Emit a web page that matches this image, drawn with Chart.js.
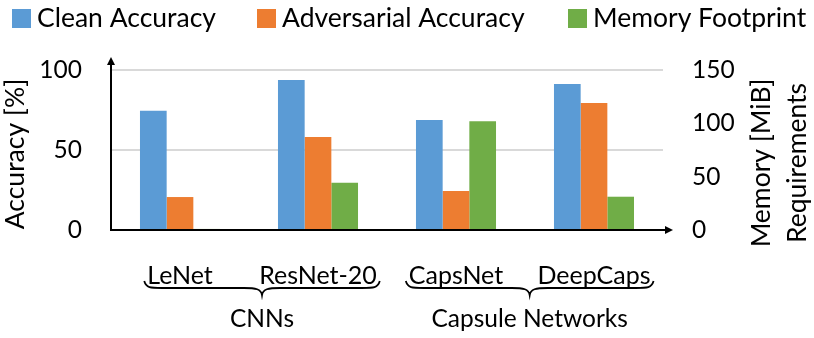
<!DOCTYPE html>
<html>
<head>
<meta charset="utf-8">
<script src="https://cdn.jsdelivr.net/npm/chart.js@4"></script>
<style>
  html, body { margin: 0; padding: 0; background: #fff; }
  #wrap { width: 814px; height: 338px; position: relative; }
</style>
</head>
<body>
<div id="wrap"><canvas id="chart"></canvas></div>
<script>
const categories = ['LeNet', 'ResNet-20', 'CapsNet', 'DeepCaps'];
const cleanAccuracy = [74.6, 93.8, 68.8, 91.3];
const adversarialAccuracy = [20.6, 58.1, 24.4, 79.4];
const memoryFootprint = [1, 44.3, 102, 31.2];
const accuracyTicks = [0, 50, 100];
const memoryTicks = [0, 50, 100, 150];
const groups = [
  { label: 'CNNs', from: 0, to: 1 },
  { label: 'Capsule Networks', from: 2, to: 3 }
];
const seriesNames = ['Clean Accuracy', 'Adversarial Accuracy', 'Memory Footprint'];
const colors = ['#5B9BD5', '#ED7D31', '#70AD47'];

const FONT = 'Lato, "Open Sans", sans-serif';

// legend, axis titles, arrows and braces
const extras = {
  id: 'extras',
  afterDraw(chart) {
    const ctx = chart.ctx;
    const area = chart.chartArea;
    const xs = chart.scales.x;
    ctx.save();
    ctx.fillStyle = '#000';
    ctx.strokeStyle = '#000';

    // legend
    const boxX = [12, 257, 568];
    ctx.font = '26.5px ' + FONT;
    ctx.textBaseline = 'middle';
    ctx.textAlign = 'left';
    seriesNames.forEach((n, i) => {
      ctx.fillStyle = colors[i];
      ctx.fillRect(boxX[i], 9, 19, 19);
      ctx.fillStyle = '#000';
      ctx.fillText(n, boxX[i] + 25, 18);
    });

    // axes with arrows
    ctx.lineWidth = 2;
    ctx.beginPath();
    ctx.moveTo(area.left, area.bottom + 1);
    ctx.lineTo(area.left, 63);
    ctx.moveTo(area.left - 1, area.bottom);
    ctx.lineTo(area.right + 3, area.bottom);
    ctx.stroke();
    ctx.beginPath();
    ctx.moveTo(area.left, 57);
    ctx.lineTo(area.left - 4, 65);
    ctx.lineTo(area.left + 4, 65);
    ctx.closePath();
    ctx.fill();
    ctx.beginPath();
    ctx.moveTo(area.right + 10, area.bottom);
    ctx.lineTo(area.right + 2, area.bottom - 4);
    ctx.lineTo(area.right + 2, area.bottom + 4);
    ctx.closePath();
    ctx.fill();

    // axis titles
    ctx.textAlign = 'center';
    ctx.save();
    ctx.translate(15, 154);
    ctx.rotate(-Math.PI / 2);
    ctx.fillText('Accuracy [%]', 0, 0);
    ctx.restore();
    ctx.save();
    ctx.translate(761, 163);
    ctx.rotate(-Math.PI / 2);
    ctx.fillText('Memory [MiB]', 0, 0);
    ctx.fillText('Requirements', 0, 36);
    ctx.restore();

    // braces under category labels
    ctx.font = '25px ' + FONT;
    ctx.lineWidth = 1.8;
    groups.forEach(g => {
      const a = xs.getPixelForValue(g.from);
      const b = xs.getPixelForValue(g.to);
      const x1 = a - ctx.measureText(categories[g.from]).width / 2 - 3;
      const x2 = b + ctx.measureText(categories[g.to]).width / 2 + 3;
      const mid = (x1 + x2) / 2;
      const y0 = 281, ym = 288, yt = 295, r = 18;
      ctx.beginPath();
      ctx.moveTo(x1, y0);
      ctx.bezierCurveTo(x1 + 2, ym, x1 + 6, ym, x1 + r, ym);
      ctx.lineTo(mid - r, ym);
      ctx.bezierCurveTo(mid - 6, ym, mid - 1, ym + 1, mid, yt);
      ctx.bezierCurveTo(mid + 1, ym + 1, mid + 6, ym, mid + r, ym);
      ctx.lineTo(x2 - r, ym);
      ctx.bezierCurveTo(x2 - 6, ym, x2 - 2, ym, x2, y0);
      ctx.stroke();
    });
    ctx.font = '24.5px ' + FONT;
    groups.forEach(g => {
      const a = xs.getPixelForValue(g.from);
      const b = xs.getPixelForValue(g.to);
      ctx.font = '25px ' + FONT;
      const x1 = a - ctx.measureText(categories[g.from]).width / 2 - 3;
      const x2 = b + ctx.measureText(categories[g.to]).width / 2 + 3;
      ctx.font = '24.5px ' + FONT;
      ctx.fillText(g.label, (x1 + x2) / 2, 319);
    });
    ctx.restore();
  }
};

new Chart(document.getElementById('chart'), {
  type: 'bar',
  data: {
    labels: categories,
    datasets: [
      { label: seriesNames[0], data: cleanAccuracy, backgroundColor: colors[0], yAxisID: 'y' },
      { label: seriesNames[1], data: adversarialAccuracy, backgroundColor: colors[1], yAxisID: 'y' },
      { label: seriesNames[2], data: memoryFootprint, backgroundColor: colors[2], yAxisID: 'y1' }
    ]
  },
  options: {
    responsive: true,
    maintainAspectRatio: false,
    animation: false,
    datasets: { bar: { categoryPercentage: 0.58, barPercentage: 1 } },
    layout: { padding: { top: 70, left: 0, right: 0, bottom: 0 } },
    plugins: { legend: { display: false }, tooltip: { enabled: false } },
    scales: {
      x: {
        grid: { display: false },
        border: { display: false },
        ticks: { color: '#000', font: { family: FONT, size: 25 }, padding: 23, maxRotation: 0 },
        afterFit: s => { s.height = 108; }
      },
      y: {
        position: 'left',
        min: 0, max: 100,
        afterBuildTicks: s => { s.ticks = accuracyTicks.map(v => ({ value: v })); },
        grid: { color: '#d9d9d9', lineWidth: 2, drawTicks: false },
        border: { display: false },
        ticks: { color: '#000', font: { family: FONT, size: 24.5 }, padding: 29 },
        afterFit: s => { s.width = 111; }
      },
      y1: {
        position: 'right',
        min: 0, max: 150,
        afterBuildTicks: s => { s.ticks = memoryTicks.map(v => ({ value: v })); },
        grid: { display: false, drawTicks: false },
        border: { display: false },
        ticks: { color: '#000', font: { family: FONT, size: 24.5 }, padding: 29 },
        afterFit: s => { s.width = 151; }
      }
    }
  },
  plugins: [extras]
});
</script>
</body>
</html>
